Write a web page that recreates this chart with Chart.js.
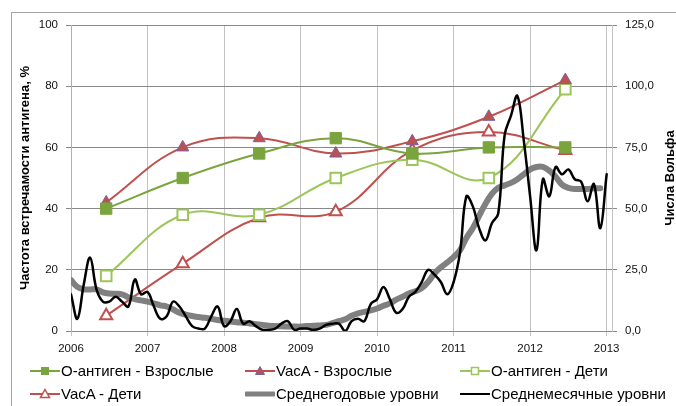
<!DOCTYPE html>
<html>
<head>
<meta charset="utf-8">
<script src="https://cdn.jsdelivr.net/npm/chart.js@4/dist/chart.umd.min.js"></script>
<style>
html,body{margin:0;padding:0;background:#fff;}
#wrap{position:relative;width:676px;height:406px;overflow:hidden;font-family:"Liberation Sans",Arial,sans-serif;}
#frame{position:absolute;left:11px;top:12px;width:900px;height:600px;border-top:1px solid #a6a6a6;border-left:1px solid #a6a6a6;box-sizing:border-box;}
#c{position:absolute;left:0;top:0;}
.item{position:absolute;height:16px;line-height:16px;font-size:15px;color:#000;white-space:nowrap;}
.item svg{position:absolute;left:0;top:2px;}
.item span{position:absolute;left:31px;top:0;}
</style>
</head>
<body>
<div id="wrap">
  <div id="frame"></div>
  <canvas id="c" width="676" height="406"></canvas>
  <div id="legend"></div>
</div>
<script>
// ---- data ----
const xTickLabels = [2006, 2007, 2008, 2009, 2010, 2011, 2012, 2013];
const leftTicks = [0, 20, 40, 60, 80, 100];
const rightTicks = [0, 25, 50, 75, 100, 125];
const surveyDates = [2006.46, 2007.46, 2008.46, 2009.46, 2010.46, 2011.46, 2012.46];
const oAntigenAdults = [40, 50, 58, 63, 58, 60, 60];
const vacAAdults = [42, 60, 63, 58, 62, 70, 82];
const oAntigenChildren = [18, 38, 38, 50, 56, 50, 79];
const vacAChildren = [5, 22, 37, 39, 59, 65, 59];
// monthly Wolf numbers, Jan 2006 .. Jan 2013
const monthlyWolf = [
  15, 5, 19, 30, 17, 12, 12, 14, 12, 10, 21, 15,
  16, 10, 5, 6, 12, 10, 6, 2, 1, 1, 6, 10,
  2, 4, 9, 3, 4, 2, 0.5, 0.5, 1, 3, 4, 0.5,
  1, 1, 0.5, 1, 2.5, 3, 3, 0, 4, 5, 4, 11,
  13, 18, 13, 7.5, 9, 14, 16, 20, 25, 23, 20, 15,
  20, 32, 55, 51, 42, 37, 44, 48, 80, 88, 96, 78,
  55, 33, 62, 55, 67, 64, 66, 62, 61, 53, 60, 42,
  64
];
// smoothed (running annual) Wolf numbers, Jan 2006 .. Dec 2012
const smoothedWolf = [
  20.8, 18, 17, 17, 17, 15.8, 15.3, 15.2, 15, 13.8, 13, 12.5,
  12, 11.3, 10.5, 10, 8.8, 7.5, 6.7, 6.1, 5.7, 5.4, 5, 4.5,
  4.2, 3.9, 3.6, 3.4, 3.1, 2.8, 2.5, 2.2, 2, 1.9, 1.8, 1.8,
  1.8, 2, 2.1, 2.3, 2.5, 3.2, 4, 4.8, 6.2, 7.2, 7.8, 8.4,
  9.2, 10.3, 11.3, 12.8, 14, 15.3, 16.2, 17.5, 20, 23.5, 26, 28,
  30.2, 33, 38, 42, 47, 52, 56, 58.5, 59.5, 60.5, 62, 64,
  66, 67, 67, 65.5, 63, 59.8, 58.5, 58, 58, 58, 58.3, 58.3
];
const seriesNames = ['О-антиген - Взрослые', 'VacA - Взрослые', 'О-антиген - Дети', 'VacA - Дети', 'Среднегодовые уровни', 'Среднемесячные уровни'];
const leftTitle = 'Частота встречамости антигена, %';
const rightTitle = 'Числа Вольфа';

// ---- build ----
const FONT = '"Liberation Sans", Arial, sans-serif';
const pts = (xs, ys) => ys.map((v, i) => ({x: xs[i], y: v}));
const monthX = i => 2006 + i / 12;
const monthPts = arr => arr.map((v, i) => ({x: monthX(i), y: v}));

const GREEN_D = '#7aa53e', GREEN_L = '#9cc65a', RED = '#c0504d', PURPLE = '#7561a3';

const titles = {
  id: 'titles',
  afterDraw(chart) {
    const ctx = chart.ctx;
    const a = chart.chartArea;
    const cy = (a.top + a.bottom) / 2;
    ctx.save();
    ctx.fillStyle = '#000';
    ctx.font = 'bold 13px ' + FONT;
    ctx.textAlign = 'center';
    ctx.textBaseline = 'middle';
    ctx.translate(25, cy);
    ctx.rotate(-Math.PI / 2);
    ctx.fillText(leftTitle, 0, 0);
    ctx.restore();
    ctx.save();
    ctx.fillStyle = '#000';
    ctx.font = 'bold 13px ' + FONT;
    ctx.textAlign = 'center';
    ctx.textBaseline = 'middle';
    ctx.translate(670, cy);
    ctx.rotate(-Math.PI / 2);
    ctx.fillText(rightTitle, 0, 0);
    ctx.restore();
  }
};

new Chart(document.getElementById('c'), {
  type: 'line',
  data: {
    datasets: [
      {label: seriesNames[5], data: monthPts(monthlyWolf), yAxisID: 'y1', borderColor: '#000', borderWidth: 2.5,
       pointRadius: 0, tension: 0.4, order: 0, borderJoinStyle: 'round', borderCapStyle: 'round'},
      {label: seriesNames[4], data: monthPts(smoothedWolf), yAxisID: 'y1', borderColor: '#808080', borderWidth: 6,
       pointRadius: 0, tension: 0.4, order: 1, borderJoinStyle: 'round', borderCapStyle: 'round'},
      {label: seriesNames[0], data: pts(surveyDates, oAntigenAdults), yAxisID: 'y', borderColor: GREEN_D, borderWidth: 2,
       pointStyle: 'rect', pointRadius: 8, pointBackgroundColor: GREEN_D, pointBorderColor: GREEN_D, pointBorderWidth: 1, tension: 0.4, order: 2},
      {label: seriesNames[1], data: pts(surveyDates, vacAAdults), yAxisID: 'y', borderColor: RED, borderWidth: 2,
       pointStyle: 'triangle', pointRadius: 7, pointBackgroundColor: RED, pointBorderColor: PURPLE, pointBorderWidth: 1, tension: 0.4, order: 2},
      {label: seriesNames[2], data: pts(surveyDates, oAntigenChildren), yAxisID: 'y', borderColor: GREEN_L, borderWidth: 2,
       pointStyle: 'rect', pointRadius: 7.5, pointBackgroundColor: '#fff', pointBorderColor: GREEN_L, pointBorderWidth: 2, tension: 0.4, order: 2},
      {label: seriesNames[3], data: pts(surveyDates, vacAChildren), yAxisID: 'y', borderColor: RED, borderWidth: 2,
       pointStyle: 'triangle', pointRadius: 7, pointBackgroundColor: '#fff', pointBorderColor: RED, pointBorderWidth: 2, tension: 0.4, order: 2}
    ]
  },
  options: {
    responsive: false,
    animation: false,
    events: [],
    layout: {padding: {left: 0, right: 0, top: 25, bottom: 45}},
    plugins: {legend: {display: false}, tooltip: {enabled: false}},
    scales: {
      x: {
        type: 'linear', min: 2006, max: 2013.07,
        afterBuildTicks: s => { s.ticks = xTickLabels.map(v => ({value: v})); },
        afterFit: s => { s.height = 30; },
        ticks: {callback: v => String(v), color: '#111', font: {size: 11.5, family: FONT}, padding: 6, maxRotation: 0, autoSkip: false},
        grid: {color: '#c3c3c3', lineWidth: 1, tickLength: 5},
        border: {color: '#8a8a8a', width: 1}
      },
      y: {
        position: 'left', min: 0, max: 100,
        afterBuildTicks: s => { s.ticks = leftTicks.map(v => ({value: v})); },
        afterFit: s => { s.width = 71; },
        ticks: {color: '#111', font: {size: 11.5, family: FONT}, padding: 8},
        grid: {color: '#888888', lineWidth: 1, tickLength: 5},
        border: {color: '#b0b0b0', width: 1}
      },
      y1: {
        position: 'right', min: 0, max: 125,
        afterBuildTicks: s => { s.ticks = rightTicks.map(v => ({value: v})); },
        afterFit: s => { s.width = 64; },
        ticks: {color: '#111', font: {size: 11.5, family: FONT}, padding: 8,
                callback: v => v.toFixed(1).replace('.', ',')},
        grid: {drawOnChartArea: false, color: '#888888', lineWidth: 1, tickLength: 5},
        border: {color: '#c3c3c3', width: 1}
      }
    }
  },
  plugins: [titles]
});

// ---- legend (HTML) ----
const legendCols = [30, 245, 460];
const legendRows = [371, 394];
function sym(kind) {
  const w = 30, h = 12, m = 6, cx = 15;
  let s = `<svg width="${w}" height="${h}" viewBox="0 0 ${w} ${h}">`;
  if (kind === 0) s += `<line x1="0" y1="${m}" x2="${w}" y2="${m}" stroke="${GREEN_D}" stroke-width="2"/><rect x="${cx-4}" y="${m-4}" width="8" height="8" fill="${GREEN_D}"/>`;
  if (kind === 1) s += `<line x1="0" y1="${m}" x2="${w}" y2="${m}" stroke="${RED}" stroke-width="2"/><polygon points="${cx},${m-4.5} ${cx+4.5},${m+3.5} ${cx-4.5},${m+3.5}" fill="${RED}" stroke="${PURPLE}" stroke-width="1"/>`;
  if (kind === 2) s += `<line x1="0" y1="${m}" x2="${w}" y2="${m}" stroke="${GREEN_L}" stroke-width="2"/><rect x="${cx-3.5}" y="${m-3.5}" width="7" height="7" fill="#fff" stroke="${GREEN_L}" stroke-width="1.5"/>`;
  if (kind === 3) s += `<line x1="0" y1="${m}" x2="${w}" y2="${m}" stroke="${RED}" stroke-width="2"/><polygon points="${cx},${m-4.5} ${cx+4.5},${m+3.5} ${cx-4.5},${m+3.5}" fill="#fff" stroke="${RED}" stroke-width="1.5"/>`;
  if (kind === 4) s += `<line x1="1" y1="${m}" x2="${w-1}" y2="${m}" stroke="#808080" stroke-width="5" stroke-linecap="round"/>`;
  if (kind === 5) s += `<line x1="0" y1="${m}" x2="${w}" y2="${m}" stroke="#000" stroke-width="2"/>`;
  return s + '</svg>';
}
const order = [0, 1, 2, 3, 4, 5];
const leg = document.getElementById('legend');
order.forEach((k, i) => {
  const d = document.createElement('div');
  d.className = 'item';
  d.style.left = legendCols[i % 3] + 'px';
  d.style.top = (legendRows[Math.floor(i / 3)] - 8) + 'px';
  d.innerHTML = sym(k) + '<span>' + seriesNames[k] + '</span>';
  leg.appendChild(d);
});
</script>
</body>
</html>
